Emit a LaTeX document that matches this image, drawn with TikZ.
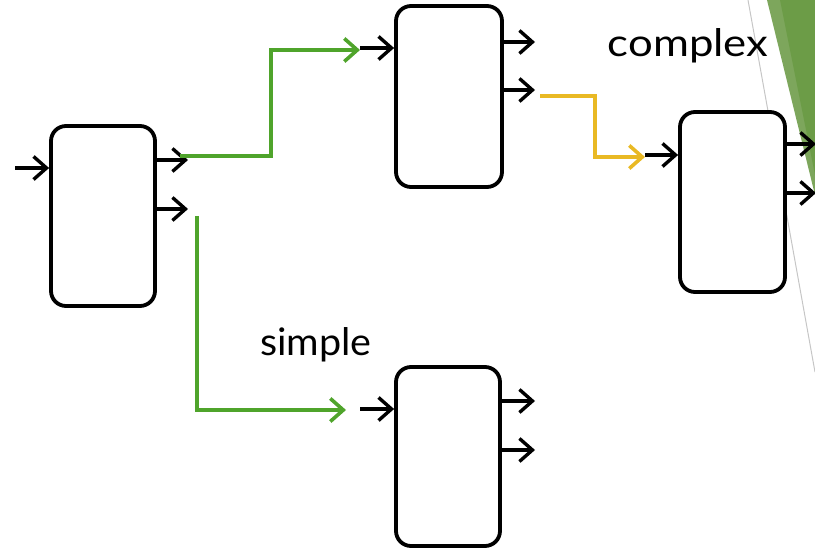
\documentclass[tikz,border=0pt]{standalone}
\usepackage{fontspec}
\setmainfont{Lato}
\usetikzlibrary{arrows.meta}
\definecolor{flowgreen}{HTML}{4FA42B}
\definecolor{flowyellow}{HTML}{E9B924}
\definecolor{decolight}{HTML}{7DA65C}
\definecolor{decodark}{HTML}{6C9C47}
\tikzset{
  blk/.style={draw=black, line width=3.8pt, rounded corners=15pt, fill=white, inner sep=0pt},
  stub/.style={draw=black, line width=3.4pt, -{Straight Barb[length=13pt,width=23pt,line width=3.4pt]}},
  flow/.style={line width=3.6pt, -{Straight Barb[length=13pt,width=23pt,line width=3.6pt]}},
  lbl/.style={font=\fontsize{38}{44}\selectfont, anchor=base, inner sep=0pt}
}
\begin{document}
\begin{tikzpicture}[x=1pt,y=-1pt]
\useasboundingbox (0,0) rectangle (815,548);
\begin{scope}
\clip (0,0) rectangle (815,548);
% decoration
\fill[decolight] (767,0) -- (815,0) -- (815,195) -- cycle;
\fill[decodark] (780,0) -- (815,0) -- (815,175) -- cycle;
\draw[gray!45, line width=1pt] (748,0) -- (815,372);
% boxes
\node[blk, minimum width=104pt, minimum height=180pt] (A) at (103,216) {};
\node[blk, minimum width=106pt, minimum height=181pt] (B) at (449,96.5) {};
\node[blk, minimum width=105pt, minimum height=180pt] (C) at (732.5,202) {};
\node[blk, minimum width=104pt, minimum height=179pt] (D) at (448,456.5) {};
% ports
\coordinate (Ain) at (15,168);
\coordinate (Ao1) at (188,160);
\coordinate (Ao2) at (188,209);
\coordinate (Bin) at (360,48);
\coordinate (Bo1) at (535,42);
\coordinate (Bo2) at (535,90);
\coordinate (Cin) at (645,155);
\coordinate (Co1) at (816,144);
\coordinate (Co2) at (816,193);
\coordinate (Din) at (360,409);
\coordinate (Do1) at (535,401);
\coordinate (Do2) at (535,450);
\draw[stub] (Ain) -- (Ain -| A.west);
\draw[stub] (Ao1 -| A.east) -- (Ao1);
\draw[stub] (Ao2 -| A.east) -- (Ao2);
\draw[stub] (Bin) -- (Bin -| B.west);
\draw[stub] (Bo1 -| B.east) -- (Bo1);
\draw[stub] (Bo2 -| B.east) -- (Bo2);
\draw[stub] (Cin) -- (Cin -| C.west);
\draw[stub] (Co1 -| C.east) -- (Co1);
\draw[stub] (Co2 -| C.east) -- (Co2);
\draw[stub] (Din) -- (Din -| D.west);
\draw[stub] (Do1 -| D.east) -- (Do1);
\draw[stub] (Do2 -| D.east) -- (Do2);
% flows
\coordinate (g1s) at (180,156);
\coordinate (g1e) at (360,50);
\draw[flow, flowgreen] (g1s) -- (271,156) -- (271,50) -- (g1e);
\coordinate (ys) at (540,96);
\coordinate (ye) at (645,157);
\draw[flow, flowyellow] (ys) -- (595,96) -- (595,157) -- (ye);
\coordinate (g2s) at (197,216);
\coordinate (g2e) at (346,410);
\draw[flow, flowgreen] (g2s) -- (197,410) -- (g2e);
% labels
\node[lbl] (simple) at (316,356) {\scalebox{1.04}[1]{simple}};
\node[lbl] (complex) at (688,57) {\scalebox{1.15}[1]{complex}};
\end{scope}
\end{tikzpicture}
\end{document}
